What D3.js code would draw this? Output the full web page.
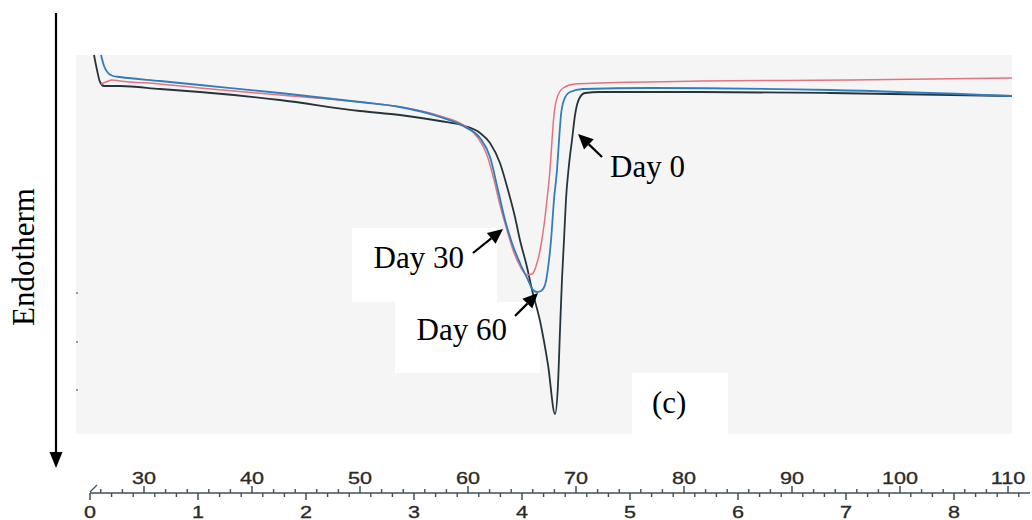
<!DOCTYPE html>
<html>
<head>
<meta charset="utf-8">
<script src="https://cdn.jsdelivr.net/npm/d3@7"></script>
<style>
  body { margin: 0; background: #fff; }
  svg { display: block; }
</style>
</head>
<body>
<svg id="chart" width="1032" height="520"></svg>
<script>
// DSC traces: [temperature °C, heat flow (arb. units, endotherm down)]
const day0 = [
  [25.37, 0], [25.65, -1.5], [25.93, -2.7], [26.30, -3.1], [26.85, -3.1], [27.78, -3.1],
  [31.48, -3.4], [35.19, -3.7], [42.59, -4.5], [50.0, -5.6], [53.70, -6.0], [57.41, -6.6],
  [59.72, -7.1], [61.11, -7.8], [62.04, -8.8], [62.96, -10.8], [63.70, -13.5], [64.35, -16.2],
  [64.81, -18.5], [65.46, -21.2], [65.93, -23.5], [66.67, -26.6], [67.41, -31.0], [68.06, -35.9],
  [68.33, -33.0], [68.52, -27.5], [68.70, -22.5], [68.89, -18.5], [69.07, -14.5], [69.35, -11.0],
  [69.63, -8.5], [69.91, -6.0], [70.28, -4.4], [70.83, -3.8], [72.22, -3.7], [76.85, -3.7],
  [81.48, -3.7], [93.52, -3.8], [110.37, -4.1]
];
const day30 = [
  [26.02, -2.9], [26.48, -2.7], [27.04, -2.5], [27.78, -2.6], [31.48, -2.9], [35.19, -3.3],
  [42.59, -4.0], [50.0, -4.7], [53.70, -5.2], [57.41, -6.1], [59.72, -7.1], [60.93, -8.3],
  [61.76, -10.0], [62.41, -12.5], [62.96, -15.0], [63.61, -17.5], [64.17, -19.5], [64.81, -21.1],
  [65.46, -22.0], [65.93, -21.9], [66.39, -20.8], [66.76, -19.0], [67.04, -17.0], [67.31, -14.5],
  [67.59, -11.5], [67.78, -8.5], [67.96, -6.0], [68.24, -4.3], [68.80, -3.3], [69.91, -2.9],
  [72.22, -2.8], [81.48, -2.6], [95.37, -2.5], [110.37, -2.3]
];
const day60 = [
  [26.02, 0], [26.30, -1.1], [26.67, -1.8], [27.13, -2.1], [27.78, -2.2], [31.48, -2.6],
  [35.19, -3.0], [42.59, -3.8], [50.0, -4.7], [53.70, -5.2], [57.41, -6.2], [59.72, -7.2],
  [61.11, -8.3], [62.04, -10.2], [62.78, -13.5], [63.43, -16.5], [64.07, -18.8], [64.81, -20.8],
  [65.56, -22.5], [66.02, -23.5], [66.39, -23.7], [66.76, -23.6], [67.13, -23.0], [67.41, -21.3],
  [67.69, -18.5], [67.96, -14.5], [68.24, -11.5], [68.43, -8.5], [68.61, -6.0], [68.89, -4.5],
  [69.44, -3.7], [70.65, -3.4], [76.85, -3.3], [93.52, -3.5], [110.37, -4.1]
];

const tempTicks = [30, 40, 50, 60, 70, 80, 90, 100, 110];
const timeTicks = [0, 1, 2, 3, 4, 5, 6, 7, 8];
const leftMarks = [-23.8, -28.7, -33.5];

// label boxes, arrows and texts, in data units
const notes = [
  { text: 'Day 0', at: [73.15, -12.2], anchor: 'start', tail: [72.41, -10.2], tip: [70.19, -7.9], box: null },
  { text: 'Day 30', at: [59.63, -21.3], anchor: 'end', tail: [60.46, -19.8], tip: [63.24, -17.4], box: [49.26, 62.69, -17.3, -24.7] },
  { text: 'Day 60', at: [63.61, -28.5], anchor: 'end', tail: [64.35, -26.1], tip: [66.48, -23.8], box: [53.24, 66.67, -24.7, -31.8] },
  { text: '(c)', at: [77.04, -35.8], anchor: 'start', tail: null, tip: null, box: [75.19, 84.07, -31.8, -37.9] }
];

const series = [
  { name: 'Day 0', values: day0, color: '#26343a', width: 1.8 },
  { name: 'Day 30', values: day30, color: '#e3737f', width: 1.5 },
  { name: 'Day 60', values: day60, color: '#2f7dbd', width: 1.8 }
];

const svg = d3.select('#chart');
const plot = { left: 76, right: 1012, top: 55, bottom: 434 };

const x = d3.scaleLinear().domain([30, 110]).range([144, 1008]);
const y = d3.scaleLinear().domain([-37.9, 0]).range([plot.bottom, plot.top]);
// time axis: 10 °C/min starting at 25 °C
const xt = d3.scaleLinear().domain([0, 8]).range([x(25), x(105)]);

const serif = '"Liberation Serif", "Times New Roman", serif';

// grey plot area
svg.append('rect')
  .attr('x', plot.left).attr('y', plot.top)
  .attr('width', plot.right - plot.left)
  .attr('height', plot.bottom - plot.top)
  .attr('fill', '#f5f5f5');

// white label boxes
svg.append('g').selectAll('rect')
  .data(notes.filter(d => d.box))
  .enter().append('rect')
  .attr('x', d => x(d.box[0]))
  .attr('y', d => y(d.box[2]))
  .attr('width', d => x(d.box[1]) - x(d.box[0]))
  .attr('height', d => y(d.box[3]) - y(d.box[2]))
  .attr('fill', '#fff');

// faint marks on left edge
svg.append('g').selectAll('line')
  .data(leftMarks)
  .enter().append('line')
  .attr('x1', plot.left).attr('x2', plot.left + 2)
  .attr('y1', d => y(d)).attr('y2', d => y(d))
  .attr('stroke', '#777').attr('stroke-width', 1.5);

const line = d3.line()
  .x(d => x(d[0]))
  .y(d => y(d[1]))
  .curve(d3.curveMonotoneX);

svg.append('g').selectAll('path')
  .data(series)
  .enter().append('path')
  .attr('d', d => line(d.values))
  .attr('fill', 'none')
  .attr('stroke', d => d.color)
  .attr('stroke-width', d => d.width)
  .attr('stroke-linejoin', 'round');

// arrows with filled heads
function arrow(g, x1, y1, x2, y2, len, half) {
  const ang = Math.atan2(y2 - y1, x2 - x1);
  const bx = x2 - len * Math.cos(ang), by = y2 - len * Math.sin(ang);
  g.append('line')
    .attr('x1', x1).attr('y1', y1).attr('x2', bx).attr('y2', by)
    .attr('stroke', '#000').attr('stroke-width', 2.2);
  const px = -Math.sin(ang) * half, py = Math.cos(ang) * half;
  g.append('path')
    .attr('d', `M${x2},${y2}L${bx + px},${by + py}L${bx - px},${by - py}Z`)
    .attr('fill', '#000');
}

const ann = svg.append('g');
notes.forEach(n => {
  if (n.tip) arrow(ann, x(n.tail[0]), y(n.tail[1]), x(n.tip[0]), y(n.tip[1]), 15, 7);
  ann.append('text')
    .attr('x', x(n.at[0])).attr('y', y(n.at[1]))
    .attr('text-anchor', n.anchor)
    .attr('font-family', serif).attr('font-size', 31)
    .attr('fill', '#000')
    .text(n.text);
});

// Endotherm arrow and label
arrow(svg, 56, 13, 56, 468, 16, 6.5);
svg.append('text')
  .attr('transform', 'translate(34,257) rotate(-90)')
  .attr('text-anchor', 'middle')
  .attr('font-family', serif).attr('font-size', 31)
  .text('Endotherm');

// double scale at the bottom: temperature above, time below
const axisY = 493;
const axisColor = '#3f5058';
const ax = svg.append('g');

ax.append('line')
  .attr('x1', xt(0)).attr('x2', 1030)
  .attr('y1', axisY).attr('y2', axisY)
  .attr('stroke', axisColor).attr('stroke-width', 1.5);

ax.append('path')
  .attr('d', `M${xt(0)},${axisY - 1}l7,-7`)
  .attr('stroke', axisColor).attr('stroke-width', 1.3).attr('fill', 'none');

const tempMinor = d3.range(26, 112, 2).filter(t => t % 10 !== 0);
const timeMinor = d3.range(1, 87).map(i => i / 10).filter(t => Math.round(t * 10) % 2 === 0 && Math.round(t * 10) % 10 !== 0);

ax.selectAll('.tmaj').data(tempTicks).enter().append('line')
  .attr('x1', d => x(d)).attr('x2', d => x(d))
  .attr('y1', axisY).attr('y2', axisY - 7)
  .attr('stroke', axisColor).attr('stroke-width', 1.5);
ax.selectAll('.tmin').data(tempMinor).enter().append('line')
  .attr('x1', d => x(d)).attr('x2', d => x(d))
  .attr('y1', axisY).attr('y2', axisY - 4)
  .attr('stroke', axisColor).attr('stroke-width', 1.4);
ax.selectAll('.smaj').data(timeTicks).enter().append('line')
  .attr('x1', d => xt(d)).attr('x2', d => xt(d))
  .attr('y1', axisY).attr('y2', axisY + 7)
  .attr('stroke', axisColor).attr('stroke-width', 1.5);
ax.selectAll('.smin').data(timeMinor).enter().append('line')
  .attr('x1', d => xt(d)).attr('x2', d => xt(d))
  .attr('y1', axisY).attr('y2', axisY + 4)
  .attr('stroke', axisColor).attr('stroke-width', 1.4);

const sans = '"Liberation Sans", Arial, sans-serif';
ax.selectAll('.tlab').data(tempTicks).enter().append('text')
  .attr('transform', d => `translate(${x(d)},484) scale(1.35,1)`)
  .attr('text-anchor', 'middle')
  .attr('font-family', sans).attr('font-size', 16)
  .attr('fill', '#2a2a2a').attr('stroke', '#2a2a2a').attr('stroke-width', 0.3)
  .text(d => d);
ax.selectAll('.slab').data(timeTicks).enter().append('text')
  .attr('transform', d => `translate(${xt(d)},518) scale(1.35,1)`)
  .attr('text-anchor', 'middle')
  .attr('font-family', sans).attr('font-size', 16)
  .attr('fill', '#2a2a2a').attr('stroke', '#2a2a2a').attr('stroke-width', 0.3)
  .text(d => d);
</script>
</body>
</html>
